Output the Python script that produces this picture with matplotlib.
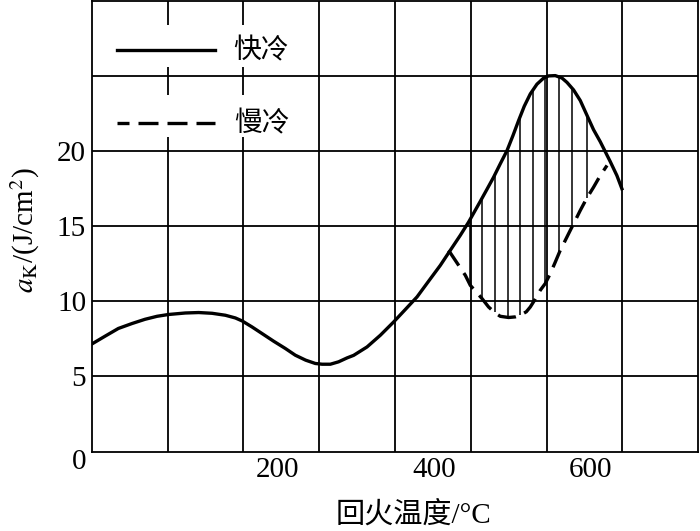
import numpy as np
import matplotlib
matplotlib.use('Agg')
import matplotlib.pyplot as plt
from matplotlib.patches import Rectangle

plt.rcParams['font.family'] = ['Liberation Serif', 'Noto Sans CJK SC']
plt.rcParams['mathtext.fontset'] = 'stix'

# 快冷 (fast cooling) curve
fast_t = [-37, -19.5, -3, 14.5, 31, 46.4, 61, 82.5, 99.5, 116.6, 133.5, 146.3,
          155, 167.6, 180.4, 195.2, 210, 222.8, 236, 248.3, 257, 267.5, 278,
          288.8, 297.2, 314.3, 331.3, 348.2, 363.1, 378.1, 392.9, 407.8, 420.5,
          433.3, 443.9, 458.8, 467.3, 475.8, 484.3, 492.9, 500.5, 507.7, 514.9,
          522.6, 531.1, 539.5, 545.9, 554.5, 563, 569.4, 577.8, 586.4, 597,
          603.3, 611.9, 624.6, 633.1, 639.5]
fast_v = [7.15, 7.69, 8.19, 8.52, 8.80, 9.00, 9.12, 9.22, 9.25, 9.20, 9.07,
          8.89, 8.69, 8.29, 7.85, 7.34, 6.86, 6.41, 6.08, 5.86, 5.81, 5.81,
          5.97, 6.23, 6.40, 6.96, 7.74, 8.62, 9.45, 10.29, 11.34, 12.39, 13.39,
          14.39, 15.27, 16.65, 17.45, 18.26, 19.15, 20.03, 21.03, 22.03, 22.98,
          23.80, 24.45, 24.85, 25.00, 25.02, 24.86, 24.57, 24.07, 23.36, 22.14,
          21.42, 20.62, 19.30, 18.37, 17.49]

# 慢冷 (slow cooling) curve
slow_t = [418.4, 439.7, 446.1, 461, 469.4, 477.9, 484.3, 494.9, 503.4, 509.8,
          517.5, 522.6, 529, 535.3, 541.7, 548.1, 554.5, 560.8, 567.2, 573.6,
          580, 586.4, 594.9, 603.3, 611.9, 620.5]
slow_v = [13.39, 11.73, 11.06, 10.18, 9.62, 9.22, 9.00, 8.92, 8.96, 9.07,
          9.30, 9.62, 10.15, 10.73, 11.18, 11.84, 12.61, 13.39, 14.05, 14.72,
          15.38, 16.05, 16.88, 17.59, 18.37, 19.04]

# positions of the vertical hatch lines between the curves
hatch_t = [446, 461, 477, 494, 510, 526, 542, 559, 576, 595]

x_ticks = [200, 400, 600]
y_ticks = [5, 10, 15, 20]
x_min, x_max = -37, 737
y_min, y_max = 0, 30

fig = plt.figure(figsize=(7, 5.31), dpi=100)
ax = fig.add_axes([0.131, 0.1497, 0.8666, 0.8488])
ax.set_xlim(x_min, x_max)
ax.set_ylim(y_min, y_max)

# grid of 8 columns x 6 rows
for gx in np.linspace(x_min, x_max, 9)[1:-1]:
    ax.axvline(gx, color='black', lw=1.3, zorder=1)
for gy in range(5, 30, 5):
    ax.axhline(gy, color='black', lw=1.3, zorder=1)

for s in ax.spines.values():
    s.set_linewidth(1.3)

ax.set_xticks(x_ticks)
ax.set_yticks(y_ticks)
ax.tick_params(length=0, labelsize=21)
ax.tick_params(axis='x', pad=4)
ax.tick_params(axis='y', pad=4)
ax.text(-0.008, -0.023, '0', transform=ax.transAxes, ha='right', va='center',
        fontsize=21)

# curves
dash = (0, (5.5, 2.7))
ax.plot(fast_t, fast_v, color='black', lw=2.4, zorder=3)
ax.plot(slow_t, slow_v, color='black', lw=2.4, ls=dash, zorder=3)

lo = np.interp(hatch_t, slow_t, slow_v)
hi = np.interp(hatch_t, fast_t, fast_v)
ax.vlines(hatch_t, lo, hi, color='black', lw=1.1, zorder=2)

# legend drawn by hand, with white patches over the grid
ax.add_patch(Rectangle((0.031, 0.853), 0.31, 0.094, transform=ax.transAxes,
                       facecolor='white', edgecolor='none', zorder=2))
ax.add_patch(Rectangle((0.031, 0.697), 0.31, 0.094, transform=ax.transAxes,
                       facecolor='white', edgecolor='none', zorder=2))
ax.plot([0.041, 0.204], [0.891, 0.891], color='black', lw=2.4,
        transform=ax.transAxes, zorder=3)
ax.plot([0.041, 0.204], [0.729, 0.729], color='black', lw=2.4,
        ls=(2.4, (6.0, 2.7)), transform=ax.transAxes, zorder=3)
ax.text(0.234, 0.889, '快冷', transform=ax.transAxes, ha='left', va='center',
        fontsize=20, zorder=3)
ax.text(0.234, 0.725, '慢冷', transform=ax.transAxes, ha='left', va='center',
        fontsize=20, zorder=3)

fig.text(25 / 700, 1 - 230 / 531, r'$a_{\mathrm{K}}$/(J/cm$^2$)', rotation=90,
         ha='center', va='center', fontsize=21)
fig.text(414 / 700, 1 - 515 / 531, '回火温度/°C', ha='center', va='center',
         fontsize=21)

fig.savefig('out.png', dpi=100)
